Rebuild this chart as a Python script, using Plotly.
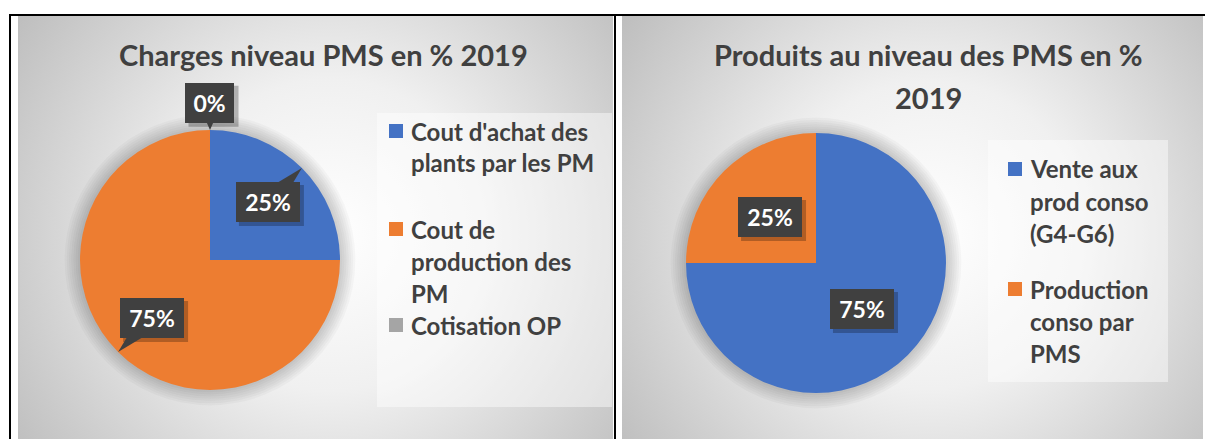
import base64
import math
import plotly.graph_objects as go

# ---------------- data ----------------
left_title_lines = ["Charges niveau PMS en % 2019"]
left_labels = ["Cout d'achat des plants par les PM", "Cout de production des PM", "Cotisation OP"]
left_values = [25, 75, 0]
left_legend_lines = [["Cout d'achat des", "plants par les PM"],
                     ["Cout de", "production des", "PM"],
                     ["Cotisation OP"]]

right_title_lines = ["Produits au niveau des PMS en %", "2019"]
right_labels = ["Vente aux prod conso (G4-G6)", "Production conso par PMS"]
right_values = [75, 25]
right_legend_lines = [["Vente aux", "prod conso", "(G4-G6)"],
                      ["Production", "conso par", "PMS"]]

slice_colors = ["#4472C4", "#ED7D31", "#A5A5A5"]

# ---------------- layout constants (pixels) ----------------
W, H = 1205, 439
FONT = "Lato"
TXT = "#404040"

panels = [
    dict(title=left_title_lines, labels=left_labels, values=left_values,
         legend=left_legend_lines, cx=210, cy=260, r=130,
         title_x=323, title_y=55, title_dy=42,
         lab_factor=[0.63, 0.63, 1.21], callout=True,
         leg_box=(377, 113, 612, 407), leg_mx=396, leg_tx=409,
         leg_y=[131, 229, 325], line_h=32),
    dict(title=right_title_lines, labels=right_labels, values=right_values,
         legend=right_legend_lines, cx=816, cy=263, r=130,
         title_x=928, title_y=55, title_dy=42,
         lab_factor=[0.5, 0.5], callout=False,
         leg_box=(988, 140, 1168, 382), leg_mx=1015, leg_tx=1028,
         leg_y=[169, 289], line_h=32),
]


def px(x):
    return x / W


def py(y):
    return 1 - y / H


# background: two radial-gradient panels
svg = f"""<svg xmlns='http://www.w3.org/2000/svg' width='{W}' height='{H}' viewBox='0 0 {W} {H}'>
<defs>
<radialGradient id='g1' gradientUnits='userSpaceOnUse' cx='330' cy='235' r='390'>
<stop offset='0' stop-color='#ffffff'/><stop offset='0.4' stop-color='#f0f0f0'/><stop offset='1' stop-color='#bcbcbc'/>
</radialGradient>
<radialGradient id='g2' gradientUnits='userSpaceOnUse' cx='930' cy='235' r='385'>
<stop offset='0' stop-color='#ffffff'/><stop offset='0.4' stop-color='#f0f0f0'/><stop offset='1' stop-color='#bcbcbc'/>
</radialGradient>
</defs>
<rect width='{W}' height='{H}' fill='#ffffff'/>
<rect x='18' y='16' width='595' height='{H-16}' fill='url(#g1)'/>
<rect x='622' y='16' width='581' height='{H-16}' fill='url(#g2)'/>
</svg>"""
bg_src = "data:image/svg+xml;base64," + base64.b64encode(svg.encode()).decode()

fig = go.Figure()
shapes = []
annotations = []

# table borders
shapes += [
    dict(type="line", xref="paper", yref="paper", x0=px(9), x1=px(W), y0=py(15), y1=py(15),
         line=dict(color="black", width=2)),
    dict(type="line", xref="paper", yref="paper", x0=px(10), x1=px(10), y0=py(14), y1=py(H),
         line=dict(color="black", width=2)),
    dict(type="line", xref="paper", yref="paper", x0=px(615), x1=px(615), y0=py(14), y1=py(H),
         line=dict(color="black", width=2)),
]

for p in panels:
    cx, cy, r = p["cx"], p["cy"], p["r"]
    vals = p["values"]
    n = len(vals)
    cols = slice_colors[:n]
    fig.add_trace(go.Pie(
        labels=p["labels"], values=vals, sort=False, direction="clockwise", rotation=0,
        marker=dict(colors=cols, line=dict(width=0)), textinfo="none",
        hoverinfo="label+percent", showlegend=False,
        domain=dict(x=[px(cx - r), px(cx + r)], y=[py(cy + r), py(cy - r)]),
    ))

    # soft shadow around the pie
    for k in range(1, 8):
        rr = r + 2.2 * k
        shapes.append(dict(type="circle", xref="paper", yref="paper", layer="below",
                           x0=px(cx - rr), x1=px(cx + rr), y0=py(cy + rr), y1=py(cy - rr),
                           fillcolor="rgba(0,0,0,0.028)", line=dict(width=0)))

    # title
    for i, t in enumerate(p["title"]):
        annotations.append(dict(xref="paper", yref="paper", x=px(p["title_x"]),
                                y=py(p["title_y"] + i * p["title_dy"]),
                                xanchor="center", yanchor="middle", showarrow=False, text=t,
                                font=dict(family=FONT, size=29, color=TXT, weight="bold")))

    # legend box
    x0, y0, x1, y1 = p["leg_box"]
    shapes.append(dict(type="rect", xref="paper", yref="paper", layer="below",
                       x0=px(x0), x1=px(x1), y0=py(y1), y1=py(y0),
                       fillcolor="rgba(255,255,255,0.45)", line=dict(width=0)))
    for j, lines in enumerate(p["legend"]):
        ly = p["leg_y"][j]
        m = 7
        shapes.append(dict(type="rect", xref="paper", yref="paper",
                           x0=px(p["leg_mx"] - m), x1=px(p["leg_mx"] + m),
                           y0=py(ly + m), y1=py(ly - m),
                           fillcolor=cols[j], line=dict(width=0)))
        for i, line in enumerate(lines):
            annotations.append(dict(xref="paper", yref="paper", x=px(p["leg_tx"]),
                                    y=py(ly + i * p["line_h"]), xanchor="left", yanchor="middle",
                                    showarrow=False, text=line,
                                    font=dict(family=FONT, size=24, color=TXT, weight="bold")))

    # data labels
    total = sum(vals)
    cum = 0
    for j, v in enumerate(vals):
        mid = (cum + v / 2) / total * 2 * math.pi
        cum += v
        dx, dy = math.sin(mid), -math.cos(mid)
        lf = p["lab_factor"][j]
        lx, ly = cx + lf * r * dx, cy + lf * r * dy
        txt = f"{round(100 * v / total)}%"
        bw, bh = 19 + 15 * len(txt), 40
        # shadow
        shapes.append(dict(type="rect", xref="paper", yref="paper",
                           x0=px(lx - bw / 2 + 3), x1=px(lx + bw / 2 + 4),
                           y0=py(ly + bh / 2 + 4), y1=py(ly - bh / 2 + 3),
                           fillcolor="rgba(0,0,0,0.25)", line=dict(width=0)))
        if p["callout"]:
            tx, ty = cx + r * dx, cy + r * dy
            ux, uy = tx - lx, ty - ly
            d = math.hypot(ux, uy)
            ux, uy = ux / d, uy / d
            hw = 12
            path = (f"M {px(lx - uy * hw)} {py(ly + ux * hw)} "
                    f"L {px(lx + uy * hw)} {py(ly - ux * hw)} "
                    f"L {px(tx)} {py(ty)} Z")
            shapes.append(dict(type="path", xref="paper", yref="paper", path=path,
                               fillcolor="#404040", line=dict(width=0)))
        annotations.append(dict(xref="paper", yref="paper", x=px(lx), y=py(ly),
                                xanchor="center", yanchor="middle", showarrow=False, text=txt,
                                width=bw, height=bh, borderpad=0, borderwidth=0,
                                bgcolor="#404040",
                                font=dict(family=FONT, size=23, color="white", weight="bold")))

fig.update_layout(
    width=W, height=H, margin=dict(l=0, r=0, t=0, b=0),
    paper_bgcolor="white", plot_bgcolor="white",
    showlegend=False,
    images=[dict(source=bg_src, xref="paper", yref="paper", x=0, y=1, sizex=1, sizey=1,
                 xanchor="left", yanchor="top", sizing="stretch", layer="below")],
    shapes=shapes, annotations=annotations,
)

fig.write_html("out.html", config={"displayModeBar": False},
               post_script="document.body.style.margin='0';document.body.style.overflow='hidden';")
